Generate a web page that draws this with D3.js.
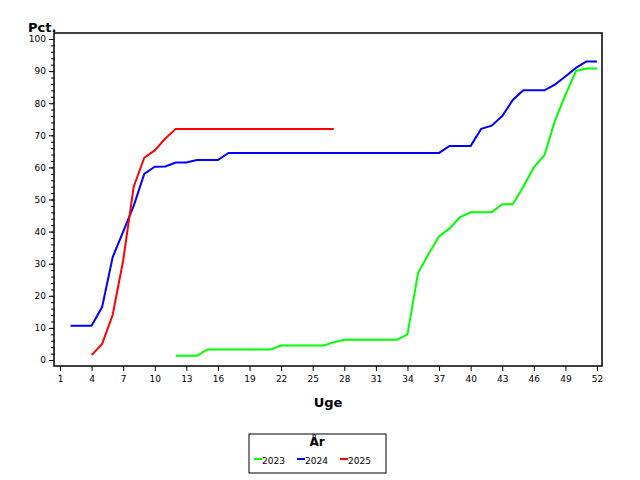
<!DOCTYPE html><html><head><meta charset="utf-8"><script src="https://cdn.jsdelivr.net/npm/d3@7"></script>
<style>body{margin:0;background:#fff}text{font-family:"DejaVu Sans",sans-serif}</style></head><body><svg id="c" width="640" height="480"></svg>
<script>
const weeks2023=d3.range(12,53);
const vals2023=[1.3,1.3,1.3,3.3,3.3,3.3,3.3,3.3,3.3,3.3,4.5,4.5,4.5,4.5,4.5,5.5,6.3,6.3,6.3,6.3,6.3,6.3,8,27,33,38.5,41,44.5,46,46,46,48.5,48.5,54,60,63.8,74.5,82.5,90,90.8,90.8];
const weeks2024=d3.range(2,53);
const vals2024=[10.7,10.7,10.7,16.5,32,40,48,58,60.2,60.3,61.5,61.5,62.3,62.3,62.3,64.5,64.5,64.5,64.5,64.5,64.5,64.5,64.5,64.5,64.5,64.5,64.5,64.5,64.5,64.5,64.5,64.5,64.5,64.5,64.5,64.5,66.7,66.7,66.7,72,73,76,81,84,84,84,85.8,88.3,91,93,93];
const weeks2025=d3.range(4,28);
const vals2025=[1.5,5,14,31,54,63,65.3,69,72,72,72,72,72,72,72,72,72,72,72,72,72,72,72,72];
const xTicks=d3.range(1,53,3);
const series=[{name:"2023",w:weeks2023,v:vals2023,c:"#00ff00"},{name:"2024",w:weeks2024,v:vals2024,c:"#0000ff"},{name:"2025",w:weeks2025,v:vals2025,c:"#ff0000"}];
const svg=d3.select("#c");
const x=d3.scaleLinear().domain([1,52]).range([60,597]);
const y=d3.scaleLinear().domain([0,100]).range([360,39]);
svg.append("rect").attr("x",54).attr("y",33).attr("width",548).attr("height",333).attr("fill","none").attr("stroke","#000").attr("stroke-width",1.5);
const ya=svg.append("g").attr("transform","translate(54,0)").call(d3.axisLeft(y).tickValues(d3.range(0,101,10)).tickSize(5).tickSizeOuter(0));
ya.append("g").call(d3.axisLeft(y).tickValues(d3.range(0,101,2)).tickSize(3).tickFormat(""));
const xa=svg.append("g").attr("transform","translate(0,366)").call(d3.axisBottom(x).tickValues(xTicks).tickSize(5).tickSizeOuter(0));
svg.selectAll(".domain").remove();
svg.selectAll(".tick text").attr("font-size",9).attr("fill","#000").attr("font-family","DejaVu Sans");
svg.selectAll(".tick line").attr("stroke","#000");
xa.selectAll(".tick text").attr("dy","0.9em");
const line=d3.line().x(d=>x(d[0])).y(d=>y(d[1]));
series.forEach(s=>svg.append("path").attr("d",line(s.w.map((w,i)=>[w,s.v[i]]))).attr("fill","none").attr("stroke",s.c).attr("stroke-width",2));
svg.append("text").attr("x",28).attr("y",32).attr("font-size",13).attr("font-weight","bold").text("Pct.");
svg.append("text").attr("x",328).attr("y",407).attr("text-anchor","middle").attr("font-size",13).attr("font-weight","bold").text("Uge");
svg.append("rect").attr("x",249).attr("y",434).attr("width",137).attr("height",39).attr("fill","none").attr("stroke","#000");
svg.append("text").attr("x",317).attr("y",446).attr("text-anchor","middle").attr("font-size",12).attr("font-weight","bold").text("År");
series.forEach((s,i)=>{const lx=254+i*43;
svg.append("line").attr("x1",lx).attr("x2",lx+8).attr("y1",459).attr("y2",459).attr("stroke",s.c).attr("stroke-width",2);
svg.append("text").attr("x",lx+8).attr("y",464).attr("font-size",9).text(s.name);});
</script></body></html>
